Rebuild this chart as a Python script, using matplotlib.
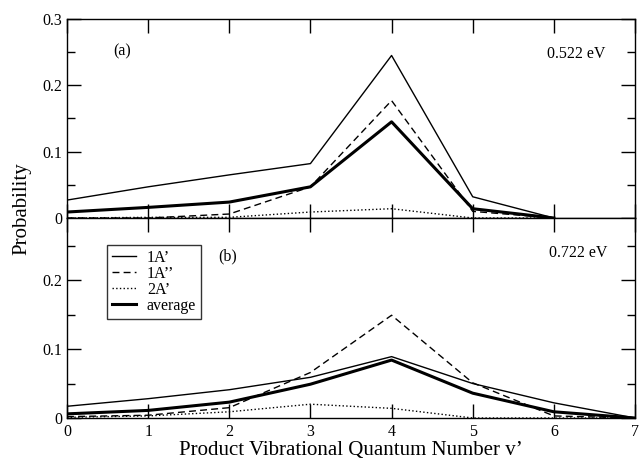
import matplotlib
matplotlib.use("Agg")
import matplotlib.pyplot as plt
from matplotlib.ticker import MultipleLocator

plt.rcParams['font.family'] = ['Liberation Serif', 'DejaVu Serif']

# Panel (a): 0.522 eV
v_a = [0, 1, 2, 3, 4, 5, 6]
a_1Ap = [0.027, 0.047, 0.065, 0.082, 0.245, 0.032, 0.0]
a_1App = [0.0, 0.0, 0.006, 0.047, 0.177, 0.010, 0.0]
a_2Ap = [0.0, 0.001, 0.001, 0.009, 0.014, 0.0, 0.0]
a_avg = [0.009, 0.016, 0.024, 0.047, 0.145, 0.014, 0.0]

# Panel (b): 0.722 eV
v_b = [0, 1, 2, 3, 4, 5, 6, 7]
b_1Ap = [0.017, 0.028, 0.041, 0.059, 0.089, 0.050, 0.022, 0.0]
b_1App = [0.002, 0.004, 0.015, 0.066, 0.149, 0.051, 0.003, 0.0]
b_2Ap = [0.001, 0.003, 0.009, 0.020, 0.014, 0.0, 0.0, 0.0]
b_avg = [0.006, 0.011, 0.023, 0.049, 0.084, 0.036, 0.009, 0.0]

labels = ["1A\u2019", "1A\u2019\u2019", "2A\u2019", "average"]
xticks = [0, 1, 2, 3, 4, 5, 6, 7]

fig = plt.figure(figsize=(6.41, 4.58), dpi=100)
L, R = 67/641, 635/641
ax1 = fig.add_axes([L, 1-218/458, R-L, (218-19)/458])
ax2 = fig.add_axes([L, 1-418/458, R-L, (418-218)/458])

def style(ax, ylim):
    ax.set_xlim(0, 7)
    ax.set_ylim(*ylim)
    ax.xaxis.set_major_locator(MultipleLocator(1))
    ax.yaxis.set_major_locator(MultipleLocator(0.1))
    ax.yaxis.set_minor_locator(MultipleLocator(0.05))
    ax.tick_params(which='both', direction='in', top=True, right=True, labelsize=11.5)
    ax.tick_params(which='major', length=10, width=1)
    ax.tick_params(which='minor', length=6, width=1)
    ax.tick_params(axis='x', pad=4)
    for s in ax.spines.values():
        s.set_linewidth(1)
    ax.yaxis.set_major_formatter(plt.FuncFormatter(lambda y, p: '0' if abs(y) < 1e-9 else f'{y:.1f}'))

def draw(ax, v, s1, s2, s3, s4):
    ax.plot(v, s1, 'k-', lw=1.0, label=labels[0])
    ax.plot(v, s2, 'k--', lw=1.0, dashes=(5, 3), label=labels[1])
    ax.plot(v, s3, 'k:', lw=1.0, label=labels[2])
    ax.plot(v, s4, 'k-', lw=2.2, label=labels[3])

draw(ax1, v_a, a_1Ap, a_1App, a_2Ap, a_avg)
draw(ax2, v_b, b_1Ap, b_1App, b_2Ap, b_avg)
style(ax1, (0, 0.3))
style(ax2, (0, 0.29))
ax1.set_xticks(xticks)
ax1.tick_params(labelbottom=False)
ax2.set_xticks(xticks)
ax2.yaxis.set_major_locator(plt.FixedLocator([0, 0.1, 0.2]))

ax1.text(113/641, 1-51/458, "(a)", transform=fig.transFigure, fontsize=11.5, va='center', ha='left')
ax1.text(605/641, 1-54/458, "0.522 eV", transform=fig.transFigure, fontsize=11.5, va='center', ha='right')
ax2.text(228/641, 1-256/458, "(b)", transform=fig.transFigure, fontsize=11.5, va='center', ha='center')
ax2.text(607/641, 1-253/458, "0.722 eV", transform=fig.transFigure, fontsize=11.5, va='center', ha='right')

leg = ax2.legend(loc='upper left', bbox_to_anchor=((107-67)/(635-67), (418-245)/200),
                 frameon=True, fancybox=False, edgecolor='black', fontsize=11.5,
                 handlelength=1.5, handletextpad=0.7, labelspacing=0.0, borderpad=0.3,
                 borderaxespad=0)
leg.get_frame().set_linewidth(1)

fig.text(22/641, 1-209/458, "Probability", rotation=90, fontsize=15, va='center', ha='center')
fig.text(351/641, 1-450/458, "Product Vibrational Quantum Number v\u2019", fontsize=15, va='center', ha='center')

fig.savefig("out.png", dpi=100)
